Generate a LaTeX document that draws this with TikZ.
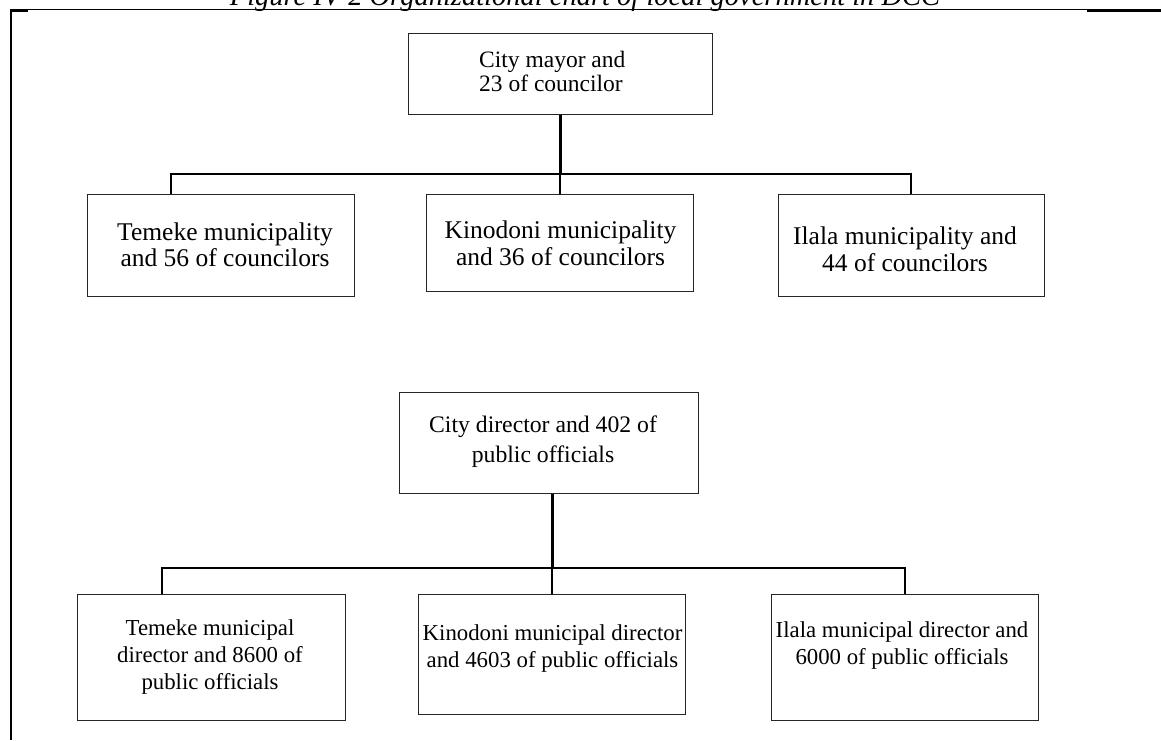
\documentclass[tikz,border=0pt]{standalone}
\usepackage{fontspec}
\setmainfont{Liberation Serif}
\begin{document}
\begin{tikzpicture}[x=1pt,y=-1pt,
  box/.style={draw=black!85,line width=1.3pt,inner sep=0pt,anchor=north west},
  lbl/.style={inner sep=0pt,align=center},
  fonta/.style={font=\fontsize{23.5}{24}\selectfont},
  fontb/.style={font=\fontsize{25.5}{26.5}\selectfont},
  fontc/.style={font=\fontsize{23.7}{30}\selectfont},
  fontd/.style={font=\fontsize{22.8}{27}\selectfont},
  trunk/.style={draw=black,line width=3pt},
  branch/.style={draw=black,line width=2.3pt,line join=miter},
  thinrule/.style={draw=black,line width=1.2pt},
  thickrule/.style={draw=black,line width=2.4pt}]
\useasboundingbox (0,0) rectangle (1161,740);

% caption, cut off by the top of the page
\begin{scope}
\clip (0,0) rectangle (1161,740);
\node[anchor=base,inner sep=0pt,font=\fontsize{28.5}{30}\selectfont\itshape] (caption) at (585,5)
  {Figure IV-2 Organizational chart of local government in DCC};
\end{scope}

% frame
\draw[thinrule] (11,9.8) -- (1161,9.8);
\draw[thickrule] (11,10.5) -- (28,10.5);
\draw[thickrule] (1087,10.3) -- (1161,10.3);
\draw[draw=black,line width=2pt] (11,9.2) -- (11,740);

% boxes
\node[box,minimum width=304pt,minimum height=81pt] (mayor) at (408,33) {};
\node[box,minimum width=267pt,minimum height=102pt] (temeke) at (87,194) {};
\node[box,minimum width=267pt,minimum height=97pt] (kinodoni) at (426,194) {};
\node[box,minimum width=266pt,minimum height=102pt] (ilala) at (778,194) {};
\node[box,minimum width=299pt,minimum height=101pt] (director) at (399,392) {};
\node[box,minimum width=268pt,minimum height=126pt] (temekeD) at (77,594) {};
\node[box,minimum width=267pt,minimum height=120pt] (kinodoniD) at (418,594) {};
\node[box,minimum width=267pt,minimum height=126pt] (ilalaD) at (771,594) {};

% texts
\node[lbl,fonta,anchor=west,align=left] (tmayor) at (479,71) {City mayor and\\23 of councilor};
\node[lbl,fontb] (ttemeke) at (225,245) {Temeke municipality\\and 56 of councilors};
\node[lbl,fontb] (tkinodoni) at (560.5,243.5) {Kinodoni municipality\\and 36 of councilors};
\node[lbl,fontb] (tilala) at (905,249.5) {Ilala municipality and\\44 of councilors};
\node[lbl,fontc] (tdirector) at (543,442) {City director and 402 of\\public officials};
\node[lbl,fontd] (ttemekeD) at (210,657) {Temeke municipal\\director and 8600 of\\public officials};
\node[lbl,fontd] (tkinodoniD) at (552.5,648.5) {Kinodoni municipal director\\and 4603 of public officials};
\node[lbl,fontd] (tilalaD) at (902,646) {Ilala municipal director and\\6000 of public officials};

% connectors, upper chart
\coordinate (j1) at (560,174);
\coordinate (b1l) at (171,174);
\coordinate (b1r) at (911,174);
\draw[trunk] (j1 |- mayor.south) -- (j1);
\draw[branch] (b1l |- temeke.north) -- (b1l) -- (b1r) -- (b1r |- ilala.north);
\draw[branch] (j1) -- (j1 |- kinodoni.north);

% connectors, lower chart
\coordinate (j2) at (552,568);
\coordinate (b2l) at (162,568);
\coordinate (b2r) at (905,568);
\draw[trunk] (j2 |- director.south) -- (j2);
\draw[branch] (b2l |- temekeD.north) -- (b2l) -- (b2r) -- (b2r |- ilalaD.north);
\draw[branch] (j2) -- (j2 |- kinodoniD.north);
\end{tikzpicture}
\end{document}
